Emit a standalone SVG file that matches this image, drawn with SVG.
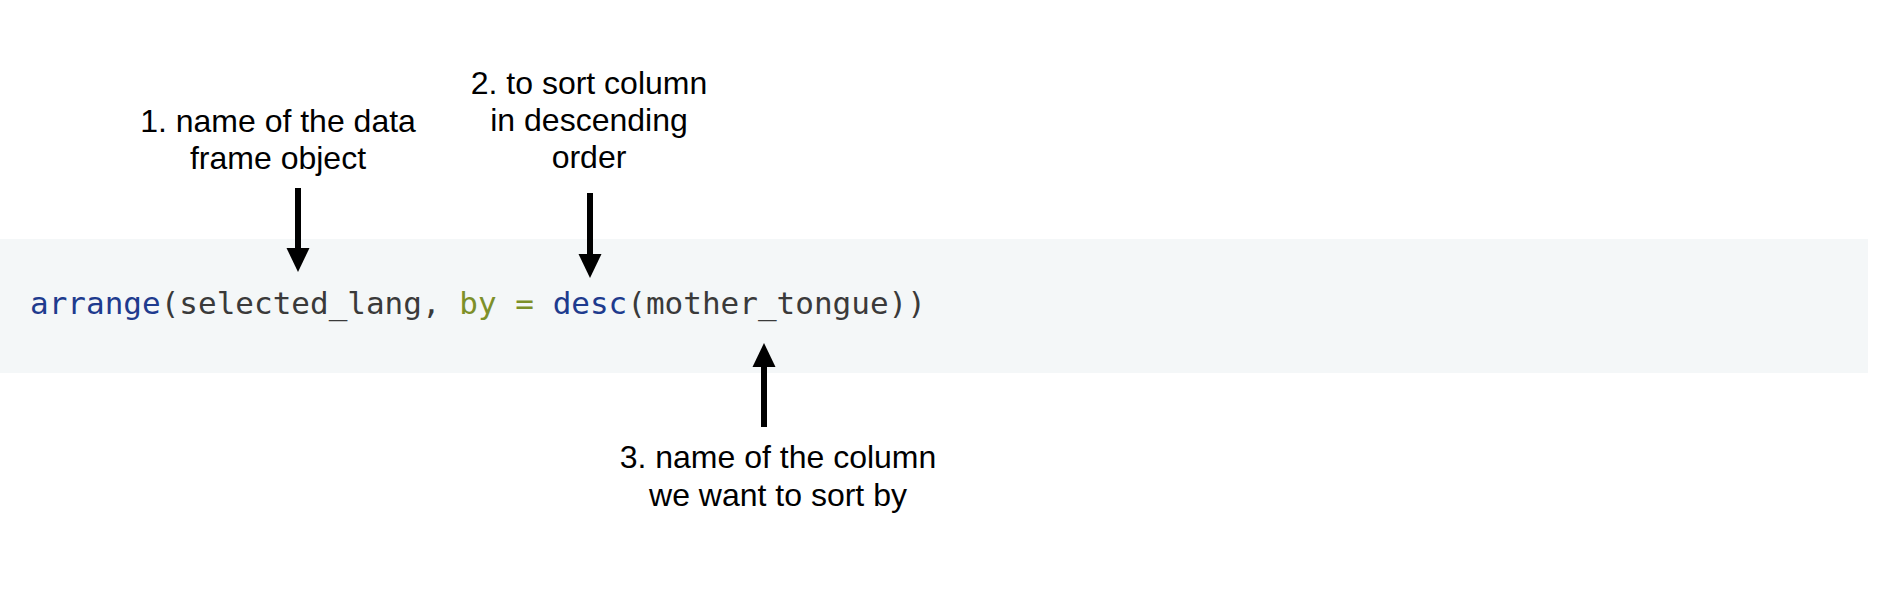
<svg xmlns="http://www.w3.org/2000/svg" width="1878" height="601" viewBox="0 0 1878 601">
  <style>
    .label { font-family: "Liberation Sans", Arial, sans-serif; font-size: 32px; fill: #000000; text-anchor: middle; }
    .code { font-family: "DejaVu Sans Mono", "Liberation Mono", monospace; font-size: 31px; fill: #3a3a3a; white-space: pre; }
    .fu { fill: #1e3b8e; }
    .at { fill: #7d9029; }
    .conn { stroke: #000000; stroke-width: 6; fill: none; }
  </style>
  <defs>
    <marker id="head" markerUnits="userSpaceOnUse" markerWidth="24" markerHeight="24" viewBox="0 0 24 24" refX="12" refY="12" orient="auto">
      <path d="M0,0.5 L24,12 L0,23.5 z" fill="#000000"/>
    </marker>
  </defs>
  <rect width="1878" height="601" fill="#ffffff"/>
  <g id="code-band">
    <rect x="0" y="239" width="1868" height="134" fill="#f4f7f8"/>
    <text class="code" x="30" y="314" xml:space="preserve"><tspan class="fu">arrange</tspan>(selected_lang, <tspan class="at">by</tspan> <tspan class="at">=</tspan> <tspan class="fu">desc</tspan>(mother_tongue))</text>
  </g>
  <g id="label-1">
    <text class="label" x="278" y="132">1. name of the data</text>
    <text class="label" x="278" y="169">frame object</text>
  </g>
  <g id="label-2">
    <text class="label" x="589" y="94">2. to sort column</text>
    <text class="label" x="589" y="131">in descending</text>
    <text class="label" x="589" y="168">order</text>
  </g>
  <g id="label-3">
    <text class="label" x="778" y="468">3. name of the column</text>
    <text class="label" x="778" y="506">we want to sort by</text>
  </g>
  <g id="connectors">
    <line class="conn" x1="298" y1="188" x2="298" y2="260" marker-end="url(#head)"/>
    <line class="conn" x1="590" y1="193" x2="590" y2="266" marker-end="url(#head)"/>
    <line class="conn" x1="764" y1="427" x2="764" y2="355" marker-end="url(#head)"/>
  </g>
</svg>
